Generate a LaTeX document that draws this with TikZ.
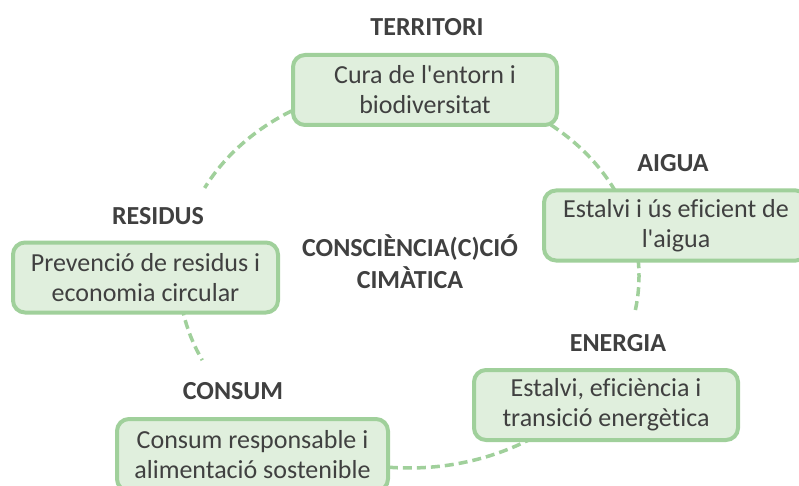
\documentclass[tikz,border=0pt]{standalone}
\usepackage{fontspec}
\setmainfont{Carlito}[Ligatures={TeXOff,NoCommon}]
\definecolor{bord}{RGB}{160,208,155}
\definecolor{boxfill}{RGB}{224,239,221}
\definecolor{txt}{RGB}{64,64,64}
\begin{document}
\begin{tikzpicture}[x=1pt,y=-1pt,
  box/.style={draw=bord, fill=boxfill, line width=4pt, rounded corners=12pt,
    minimum width=264pt, minimum height=70pt, align=center, text=txt,
    font=\fontsize{26}{30}\selectfont, inner sep=0pt},
  lab/.style={text=txt, font=\fontsize{26}{32}\selectfont\bfseries, align=center, inner sep=0pt},
  arcline/.style={draw=bord, line width=3.5pt, dash pattern=on 9pt off 5pt}]
\clip (0,0) rectangle (799,486);
\fill[white] (0,0) rectangle (799,486);
% dashed ring segments (drawn behind the boxes)
\draw[arcline] plot[domain=110:152.7, samples=60] ({409+230*cos(\x)},{276-192*sin(\x)});
\draw[arcline] plot[domain=70:15, samples=60] ({409+230*cos(\x)},{276-192*sin(\x)});
\draw[arcline] plot[domain=5:-11.5, samples=40] ({409+230*cos(\x)},{276-192*sin(\x)});
\draw[arcline] plot[domain=-50:-110, samples=60] ({409+230*cos(\x)},{276-192*sin(\x)});
\draw[arcline] plot[domain=185:206, samples=40] ({409+230*cos(\x)},{276-192*sin(\x)});
% boxes
\node[box] (terr) at (425,90) {Cura de l'entorn i\\biodiversitat};
\node[box] (aigua) at (676,225.5) {Estalvi i ús eficient de\\l'aigua};
\node[box] (ener) at (606,405) {Estalvi, eficiència i\\transició energètica};
\node[box, minimum width=271pt, minimum height=72pt] (cons) at (252.5,455) {Consum responsable i\\alimentació sostenible};
\node[box, minimum width=265pt] (resid) at (145.5,277.5) {Prevenció de residus i\\economia circular};
% labels
\node[lab] (lterr) at (427,27) {TERRITORI};
\node[lab] (laigua) at (673,163) {AIGUA};
\node[lab] (lener) at (618,343) {ENERGIA};
\node[lab] (lcons) at (233,391) {CONSUM};
\node[lab] (lresid) at (158,216) {RESIDUS};
\node[lab] (center) at (410,262) {CONSCIÈNCIA(C)CIÓ\\CIMÀTICA};
\end{tikzpicture}
\end{document}
